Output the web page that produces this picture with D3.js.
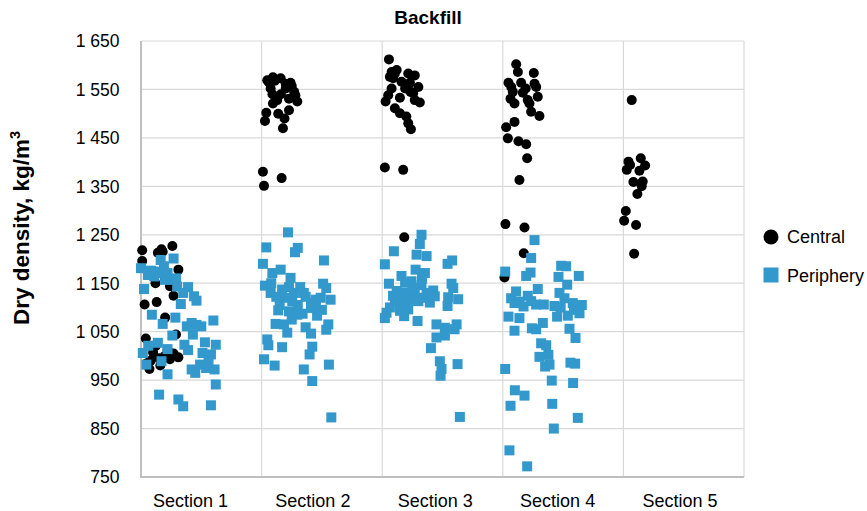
<!DOCTYPE html>
<html><head><meta charset="utf-8">
<script src="https://cdn.jsdelivr.net/npm/d3@7"></script>
<style>body{margin:0;background:#fff}svg{display:block}text{font-family:"Liberation Sans",Arial,sans-serif}</style>
</head><body>
<svg id="chart" width="867" height="511"></svg>
<script>
const title = "Backfill";
const sections = ["Section 1","Section 2","Section 3","Section 4","Section 5"];
const yTicks = [750,850,950,1050,1150,1250,1350,1450,1550,1650];
const seriesNames = ["Central","Periphery"];
const seriesColors = ["#000000","#3399cc"];

// [offset within section band, dry density]
const central1 = [[0.01,1218],[0.01,1196],[0.14,1213],[0.17,1220],[0.26,1227],[0.31,1178],[0.24,1144],[0.27,1124],[0.03,1106],[0.13,1111],[0.2,1079],[0.29,1044],[0.04,1036],[0.1,1007],[0.07,973],[0.16,980],[0.24,993],[0.31,997],[0.27,1005],[0.12,1020],[0.08,990],[0.2,1000],[0.15,995],[0.22,1012],[0.05,985],[0.18,1215],[0.1,1175],[0.2,1160],[0.12,1150]];
const central2 = [[0.047,1569],[0.094,1575],[0.158,1573],[0.24,1564],[0.075,1552],[0.2,1552],[0.27,1545],[0.28,1538],[0.296,1525],[0.227,1531],[0.13,1528],[0.094,1521],[0.039,1502],[0.138,1500],[0.227,1507],[0.19,1490],[0.028,1485],[0.177,1470],[0.011,1380],[0.166,1367],[0.02,1351],[0.06,1565],[0.11,1568],[0.2,1562],[0.25,1557],[0.16,1540],[0.09,1540]];
const central3 = [[0.056,1612],[0.078,1586],[0.12,1590],[0.064,1576],[0.091,1573],[0.216,1583],[0.27,1579],[0.16,1566],[0.23,1564],[0.3,1555],[0.078,1552],[0.05,1538],[0.147,1533],[0.257,1542],[0.27,1528],[0.312,1523],[0.028,1525],[0.105,1511],[0.147,1501],[0.2,1494],[0.216,1480],[0.238,1468],[0.022,1389],[0.174,1384],[0.183,1245],[0.105,1583],[0.19,1552],[0.235,1545]];
const central4 = [[0.111,1602],[0.125,1586],[0.257,1584],[0.047,1564],[0.152,1564],[0.263,1562],[0.277,1555],[0.083,1545],[0.166,1543],[0.29,1535],[0.064,1531],[0.097,1521],[0.207,1528],[0.221,1521],[0.235,1504],[0.304,1495],[0.097,1483],[0.028,1472],[0.042,1449],[0.13,1443],[0.194,1437],[0.202,1408],[0.138,1363],[0.022,1272],[0.18,1265],[0.174,1212],[0.014,1162],[0.07,1555],[0.19,1552]];
const central5 = [[0.069,1528],[0.144,1408],[0.042,1401],[0.18,1393],[0.028,1384],[0.133,1382],[0.083,1359],[0.16,1360],[0.152,1350],[0.116,1334],[0.02,1299],[0.006,1279],[0.105,1270],[0.089,1211],[0.055,1394]];

const periphery1 = [[0.163,1198],[0.27,1201],[0.0,1181],[0.057,1167],[0.11,1164],[0.16,1174],[0.22,1171],[0.25,1157],[0.29,1160],[0.2,1157],[0.14,1171],[0.025,1138],[0.3,1143],[0.39,1142],[0.35,1130],[0.44,1123],[0.46,1114],[0.33,1107],[0.09,1085],[0.285,1079],[0.18,1066],[0.38,1061],[0.42,1068],[0.46,1064],[0.5,1061],[0.6,1073],[0.43,1044],[0.26,1042],[0.53,1028],[0.62,1023],[0.36,1023],[0.39,1012],[0.51,1006],[0.58,1003],[0.06,1021],[0.14,1027],[0.22,1014],[0.015,1006],[0.17,989],[0.045,982],[0.42,972],[0.45,965],[0.49,982],[0.54,975],[0.61,972],[0.56,987],[0.22,962],[0.62,941],[0.15,920],[0.31,910],[0.35,896],[0.58,898],[0.08,1176],[0.19,1185]];
const periphery2 = [[0.219,1255],[0.039,1224],[0.3,1223],[0.277,1214],[0.517,1197],[0.011,1190],[0.089,1171],[0.158,1178],[0.24,1161],[0.028,1145],[0.075,1130],[0.122,1122],[0.17,1137],[0.227,1142],[0.268,1130],[0.32,1142],[0.365,1122],[0.41,1109],[0.448,1116],[0.49,1120],[0.51,1149],[0.536,1140],[0.572,1116],[0.254,1113],[0.138,1094],[0.227,1092],[0.296,1085],[0.34,1087],[0.41,1099],[0.46,1083],[0.116,1066],[0.185,1065],[0.213,1048],[0.365,1059],[0.41,1046],[0.553,1065],[0.536,1054],[0.047,1034],[0.056,1022],[0.17,1018],[0.42,1019],[0.398,1003],[0.02,993],[0.108,980],[0.35,972],[0.558,982],[0.42,948],[0.578,873],[0.3,1105],[0.2,1120],[0.35,1130],[0.45,1100],[0.15,1105],[0.08,1150],[0.5,1095],[0.25,1075]];
const periphery3 = [[0.326,1250],[0.312,1231],[0.097,1216],[0.285,1209],[0.368,1206],[0.022,1189],[0.58,1197],[0.542,1190],[0.277,1178],[0.354,1171],[0.16,1165],[0.056,1149],[0.243,1154],[0.326,1146],[0.423,1135],[0.575,1149],[0.589,1140],[0.12,1134],[0.188,1130],[0.27,1128],[0.368,1130],[0.436,1123],[0.547,1121],[0.63,1117],[0.105,1113],[0.174,1108],[0.243,1114],[0.3,1113],[0.395,1110],[0.542,1103],[0.064,1100],[0.147,1093],[0.216,1096],[0.036,1089],[0.022,1078],[0.182,1082],[0.293,1072],[0.45,1065],[0.617,1065],[0.52,1058],[0.6,1055],[0.45,1038],[0.52,1042],[0.404,1016],[0.478,989],[0.625,983],[0.492,973],[0.484,959],[0.644,874],[0.13,1120],[0.2,1120],[0.33,1120],[0.39,1124],[0.09,1124],[0.25,1140],[0.19,1151],[0.33,1160]];
const periphery4 = [[0.263,1239],[0.235,1202],[0.484,1186],[0.525,1185],[0.02,1174],[0.23,1172],[0.194,1165],[0.462,1163],[0.63,1165],[0.534,1147],[0.29,1138],[0.11,1133],[0.47,1130],[0.069,1119],[0.207,1124],[0.511,1119],[0.138,1112],[0.097,1109],[0.276,1106],[0.172,1102],[0.428,1103],[0.58,1109],[0.655,1105],[0.636,1088],[0.047,1081],[0.138,1078],[0.45,1081],[0.539,1083],[0.332,1068],[0.241,1057],[0.277,1055],[0.097,1052],[0.553,1056],[0.603,1037],[0.318,1026],[0.36,1022],[0.378,1002],[0.304,998],[0.387,982],[0.351,978],[0.561,986],[0.6,984],[0.02,973],[0.406,949],[0.583,944],[0.1,929],[0.18,918],[0.064,897],[0.41,901],[0.622,872],[0.423,850],[0.055,805],[0.202,772],[0.34,1106],[0.235,1113],[0.48,1100],[0.59,1095]];

const central = [central1, central2, central3, central4, central5];
const periphery = [periphery1, periphery2, periphery3, periphery4];

const svg = d3.select("#chart");
const x = d3.scaleLinear().domain([0, 5]).range([141, 744]);
const y = d3.scaleLinear().domain([750, 1650]).range([477, 41]);
const xLab = d3.scalePoint().domain(sections).range([190.5, 680]);

// grid
svg.append("g").selectAll("line").data(yTicks).join("line")
  .attr("x1", x(0)).attr("x2", x(5)).attr("y1", d => y(d)).attr("y2", d => y(d))
  .attr("stroke", "#d9d9d9").attr("stroke-width", 1.2);
svg.append("g").selectAll("line").data(d3.range(1, 6)).join("line")
  .attr("x1", d => x(d)).attr("x2", d => x(d)).attr("y1", y(1650)).attr("y2", y(750))
  .attr("stroke", "#d9d9d9").attr("stroke-width", 1.2);

// axes lines
svg.append("line").attr("x1", x(0)).attr("x2", x(0)).attr("y1", y(1650)).attr("y2", y(750) + 1)
  .attr("stroke", "#bfbfbf").attr("stroke-width", 2);
svg.append("line").attr("x1", x(0) - 1).attr("x2", x(5)).attr("y1", y(750)).attr("y2", y(750))
  .attr("stroke", "#bfbfbf").attr("stroke-width", 2);

// tick labels
const fmt = v => { const s = String(v); return s.length > 3 ? s.slice(0, s.length - 3) + " " + s.slice(-3) : s; };
svg.append("g").selectAll("text").data(yTicks).join("text")
  .attr("x", 119.5).attr("y", d => y(d)).attr("dy", "0.36em")
  .attr("text-anchor", "end").attr("font-size", 17.5).attr("fill", "#000")
  .text(d => fmt(d));
svg.append("g").selectAll("text").data(sections).join("text")
  .attr("x", d => xLab(d)).attr("y", 507)
  .attr("text-anchor", "middle").attr("font-size", 18).attr("fill", "#000")
  .text(d => d);

// title
svg.append("text").attr("x", 428).attr("y", 24).attr("text-anchor", "middle")
  .attr("font-size", 19).attr("font-weight", "bold").text(title);

// y title
const yt = svg.append("text").attr("transform", "translate(29,228) rotate(-90)")
  .attr("text-anchor", "middle").attr("font-size", 22.5).attr("font-weight", "bold");
yt.append("tspan").text("Dry density, kg/m");
yt.append("tspan").attr("dy", -9).attr("font-size", 14.5).text("3");

// points
const gC = svg.append("g");
central.forEach((arr, i) => {
  gC.selectAll(null).data(arr).join("circle")
    .attr("cx", d => x(i + d[0])).attr("cy", d => y(d[1])).attr("r", 5)
    .attr("fill", seriesColors[0]);
});
const gP = svg.append("g");
periphery.forEach((arr, i) => {
  gP.selectAll(null).data(arr).join("rect")
    .attr("x", d => x(i + d[0]) - 5).attr("y", d => y(d[1]) - 5)
    .attr("width", 10).attr("height", 10)
    .attr("fill", seriesColors[1]);
});

// legend
const leg = svg.append("g");
leg.append("circle").attr("cx", 771).attr("cy", 237).attr("r", 7.5).attr("fill", seriesColors[0]);
leg.append("rect").attr("x", 763.5).attr("y", 267.5).attr("width", 15).attr("height", 15).attr("fill", seriesColors[1]);
leg.selectAll("text").data(seriesNames).join("text")
  .attr("x", 787).attr("y", (d, i) => 237 + i * 38.5).attr("dy", "0.36em")
  .attr("font-size", 18).text(d => d);
</script>
</body></html>
